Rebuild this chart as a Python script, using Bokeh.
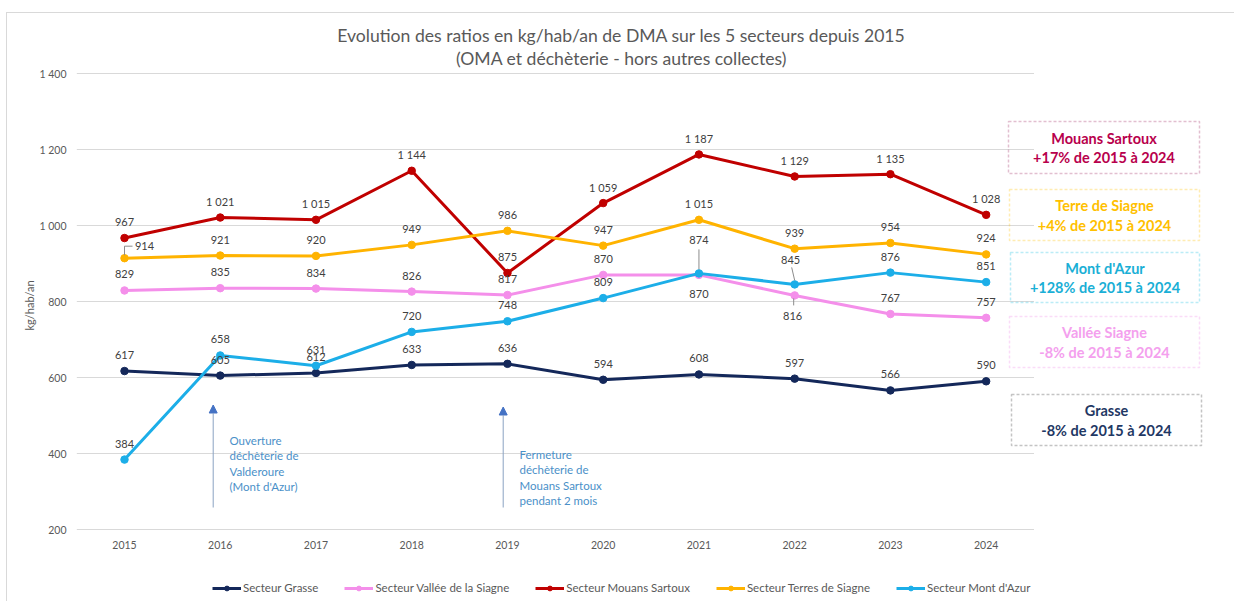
from bokeh.plotting import figure
from bokeh.models import (Range1d, FixedTicker, Legend, LegendItem, Label, Arrow,
                          NormalHead, BoxAnnotation, ColumnDataSource, Title)
from bokeh.embed import file_html
from bokeh.resources import INLINE
from bokeh.core.properties import value

# ---------------- data ----------------
years = [2015, 2016, 2017, 2018, 2019, 2020, 2021, 2022, 2023, 2024]
year_labels = ["2015", "2016", "2017", "2018", "2019", "2020", "2021", "2022", "2023", "2024"]

grasse = [617, 605, 612, 633, 636, 594, 608, 597, 566, 590]
vallee = [829, 835, 834, 826, 817, 870, 870, 816, 767, 757]
mouans = [967, 1021, 1015, 1144, 875, 1059, 1187, 1129, 1135, 1028]
terres = [914, 921, 920, 949, 986, 947, 1015, 939, 954, 924]
azur = [384, 658, 631, 720, 748, 809, 874, 845, 876, 851]

series_names = ["Secteur Grasse", "Secteur Vallée de la Siagne", "Secteur Mouans Sartoux",
                "Secteur Terres de Siagne", "Secteur Mont d'Azur"]

yticks = [200, 400, 600, 800, 1000, 1200, 1400]
ytick_labels = ["200", "400", "600", "800", "1 000", "1 200", "1 400"]

title_lines = ["Evolution des ratios en kg/hab/an de DMA sur les 5 secteurs depuis 2015",
               "(OMA et déchèterie - hors autres collectes)"]
y_title = "kg/hab/an"

note1 = ["Ouverture", "déchèterie de", "Valderoure", "(Mont d'Azur)"]
note2 = ["Fermeture", "déchèterie de", "Mouans Sartoux", "pendant 2 mois"]

boxes_text = [
    ("Mouans Sartoux", "+17% de 2015 à 2024"),
    ("Terre de Siagne", "+4% de 2015 à 2024"),
    ("Mont d'Azur", "+128% de 2015 à 2024"),
    ("Vallée Siagne", "-8% de 2015 à 2024"),
    ("Grasse", "-8% de 2015 à 2024"),
]

# ---------------- styles ----------------
FONT = "Lato"
colors = ["#14285A", "#F48FEA", "#C00000", "#FFB300", "#1CAEE8"]
GRAY_TXT = "#595959"
LBL_TXT = "#404040"

# reference-pixel -> data helpers (layout only)
PX_PER_YEAR = 95.74
PX_PER_UNIT = 0.38
def X(px):
    return 2015 + (px - 124.0) / PX_PER_YEAR
def Y(py):
    return 200 + (529.0 - py) / PX_PER_UNIT

# canvas sits at page (7, 13) after a 6/12 px margin and a 1 px border;
# the frame runs from page x=76 to the right edge and from y=13 to the bottom
FRAME_LEFT, FRAME_TOP = 76, 13
FW, FH = 1159, 588
p = figure(frame_width=FW, frame_height=FH,
           min_border_left=69, min_border_right=0, min_border_top=0, min_border_bottom=0,
           x_range=Range1d(X(FRAME_LEFT), X(FRAME_LEFT + FW)),
           y_range=Range1d(Y(FRAME_TOP + FH), Y(FRAME_TOP)),
           output_backend="svg", toolbar_location=None, tools="")
p.styles = {"margin-left": "6px", "margin-top": "12px",
            "border-top": "1px solid #D9D9D9", "border-left": "1px solid #D9D9D9"}
p.outline_line_color = None
p.background_fill_color = "white"
p.border_fill_color = "white"

# y axis (library axis) ; x axis labels drawn at the category positions
p.xaxis.visible = False
p.yaxis.ticker = FixedTicker(ticks=yticks)
p.yaxis.major_label_overrides = {t: l for t, l in zip(yticks, ytick_labels)}
p.yaxis.axis_line_color = None
p.yaxis.major_tick_line_color = None
p.yaxis.minor_tick_line_color = None
p.yaxis.major_tick_out = 0
p.yaxis.major_tick_in = 0
p.yaxis.minor_tick_out = 0
p.yaxis.minor_tick_in = 0
p.yaxis.major_label_text_font = FONT
p.yaxis.major_label_text_font_size = "10.5px"
p.yaxis.major_label_text_color = GRAY_TXT
p.yaxis.major_label_standoff = 10

p.text(x=years, y=[Y(544)] * len(years), text=year_labels, text_font=value(FONT),
       text_font_size="10.5px", text_color=GRAY_TXT, text_align="center",
       text_baseline="middle")

# y-axis title, placed along the left side
p.add_layout(Title(text=y_title, align="left", offset=271, standoff=2,
                   text_font=FONT, text_font_size="11px", text_font_style="normal",
                   text_color=GRAY_TXT), "left")

p.xgrid.grid_line_color = None
p.ygrid.grid_line_color = None
p.segment(x0=[years[0] - 0.5] * len(yticks), x1=[years[-1] + 0.5] * len(yticks),
          y0=yticks, y1=yticks, line_color="#D9D9D9", line_width=1)

# ---------------- series ----------------
all_series = [grasse, vallee, mouans, terres, azur]
items = []
for name, vals, col in zip(series_names, all_series, colors):
    src = ColumnDataSource(dict(x=years, y=vals))
    ln = p.line("x", "y", source=src, line_color=col, line_width=3)
    sc = p.scatter("x", "y", source=src, size=7.5, fill_color=col, line_color=col)
    items.append(LegendItem(label=name, renderers=[ln, sc]))

# ---------------- data labels ----------------
nudges = {
    (3, 0): (20, -12),   # 914
    (4, 6): (0, -33),    # 874
    (1, 6): (0, 19),     # 870
    (4, 7): (-4, -24),   # 845
    (1, 7): (-2, 21),    # 816
}
lx, ly, lt, dxs, dys = [], [], [], [], []
for si, vals in enumerate(all_series):
    for i, (yr, v) in enumerate(zip(years, vals)):
        dx, dy = nudges.get((si, i), (0, -16))
        lx.append(yr); ly.append(v)
        lt.append(f"{v:,}".replace(",", " "))
        dxs.append(dx); dys.append(dy)
p.text(x="x", y="y", text="t", x_offset="dx", y_offset="dy",
       source=ColumnDataSource(dict(x=lx, y=ly, t=lt, dx=dxs, dy=dys)),
       text_font=value(FONT), text_font_size="11px", text_color=LBL_TXT,
       text_align="center", text_baseline="middle")

# leader lines
lead_x0, lead_y0, lead_x1, lead_y1 = [], [], [], []
def leader(yr, v, dx0, dy0, dx1, dy1):
    lead_x0.append(yr + dx0 / PX_PER_YEAR); lead_y0.append(v - dy0 / PX_PER_UNIT)
    lead_x1.append(yr + dx1 / PX_PER_YEAR); lead_y1.append(v - dy1 / PX_PER_UNIT)
leader(years[0], terres[0], 0, -3, 0, -12)
leader(years[0], terres[0], 0, -12, 8, -12)
leader(years[6], azur[6], 0, -24, 0, -4)
leader(years[7], azur[7], -3, -17, 0, -4)
leader(years[7], vallee[7], -1, 3, -1, 10)
p.segment(lead_x0, lead_y0, lead_x1, lead_y1, line_color="#8C8C8C", line_width=1)

# ---------------- annotations (arrows + notes) ----------------
NOTE_COL = "#4A90C8"
for ax_px, tip_py in [(212.7, 404.5), (502.7, 406.5)]:
    p.add_layout(Arrow(end=NormalHead(size=8, fill_color="#4472C4", line_color="#4472C4"),
                       x_start=X(ax_px), y_start=Y(507), x_end=X(ax_px), y_end=Y(tip_py),
                       line_color="#8AA2C2", line_width=1))
notes = [(note1, 229, 440), (note2, 519, 454)]
for lines, tx_px, ty0 in notes:
    for k, t in enumerate(lines):
        p.add_layout(Label(x=X(tx_px), y=Y(ty0 + k * 15.4), text=t, text_font=FONT,
                           text_font_size="11.5px", text_color=NOTE_COL,
                           text_align="left", text_baseline="middle"))

# ---------------- title ----------------
for t, py in zip(title_lines, [35, 58]):
    p.add_layout(Label(x=X(621), y=Y(py), text=t, text_font=FONT, text_font_size="17.6px",
                       text_color=GRAY_TXT, text_align="center", text_baseline="middle"))

# ---------------- right-hand summary boxes ----------------
box_geom = [(1008, 1199, 121, 173), (1009, 1199, 189, 240), (1010, 1199, 252, 302),
            (1009, 1199, 316, 367), (1011, 1201, 394, 445)]
box_text_col = ["#B8004C", "#FFC000", "#1AAFD6", "#F4A0EE", "#1F3864"]
box_line_col = ["#9E2A64", "#FFC000", "#1FC0E0", "#F08CE8", "#3A3A3A"]
for (l, r, t, b), (l1, l2), tc, lc in zip(box_geom, boxes_text, box_text_col, box_line_col):
    p.add_layout(BoxAnnotation(left=X(l), right=X(r), top=Y(t), bottom=Y(b),
                               fill_color=None, line_color=lc, line_width=1.5,
                               line_dash="3 2"))
    cx = (l + r) / 2
    cy = (t + b) / 2
    for txt, py in [(l1, cy - 9.5), (l2, cy + 10)]:
        p.add_layout(Label(x=X(cx), y=Y(py), text=txt, text_font=FONT,
                           text_font_size="14.5px", text_font_style="bold", text_color=tc,
                           text_align="center", text_baseline="middle"))

# ---------------- legend (inside the frame, bottom row) ----------------
legend = Legend(items=items, orientation="horizontal", location=(136, 7),
                glyph_width=29, glyph_height=12, label_height=12, label_standoff=2,
                spacing=26, padding=0, margin=0, border_line_color=None,
                background_fill_alpha=0,
                label_text_font=FONT, label_text_font_size="11.5px",
                label_text_color=GRAY_TXT)
p.add_layout(legend, "center")

open("out.html", "w").write(file_html(p, INLINE))
